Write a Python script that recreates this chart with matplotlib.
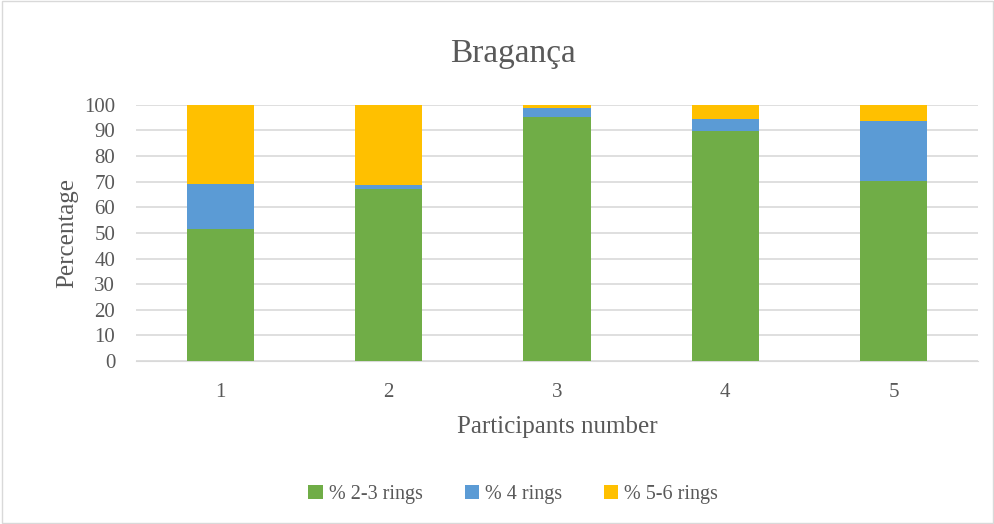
import matplotlib.pyplot as plt
import numpy as np

participants = ['1', '2', '3', '4', '5']
rings_2_3 = [51.4, 67.3, 95.4, 89.6, 70.3]
rings_4 = [17.5, 1.4, 3.5, 4.7, 23.2]
rings_5_6 = [31.1, 31.3, 1.1, 5.7, 6.5]

plt.rcParams['font.family'] = ['Liberation Serif', 'DejaVu Serif']
grey = '#595959'

fig = plt.figure(figsize=(9.95, 5.24), dpi=100)
ax = fig.add_axes([0.1367, 0.311, 0.846, 0.489])

x = np.arange(len(participants))
w = 0.4
b1 = np.array(rings_2_3)
b2 = b1 + np.array(rings_4)
ax.bar(x, rings_2_3, w, color='#70ad47', label='% 2-3 rings', zorder=3)
ax.bar(x, rings_4, w, bottom=b1, color='#5b9bd5', label='% 4 rings', zorder=3)
ax.bar(x, rings_5_6, w, bottom=b2, color='#ffc000', label='% 5-6 rings', zorder=3)

ax.set_xlim(-0.5, len(participants) - 0.5)
ax.set_ylim(0, 100)
ax.set_yticks(range(0, 101, 10))
ax.set_xticks(x)
ax.set_xticklabels(participants)
ax.yaxis.grid(True, color='#d9d9d9', linewidth=1.2, zorder=0)
for s in ['top', 'right', 'left']:
    ax.spines[s].set_visible(False)
ax.spines['bottom'].set_color('#d9d9d9')
ax.tick_params(axis='both', length=0, labelsize=15, colors=grey)
ax.tick_params(axis='y', pad=15)
ax.tick_params(axis='x', pad=16)

fig.text(0.516, 0.898, 'Bragança', fontsize=24, color=grey, ha='center', va='center')
ax.set_ylabel('Percentage', fontsize=18, color=grey, labelpad=4)
ax.set_xlabel('Participants number', fontsize=18, color=grey, labelpad=10)

fig.legend(loc='center', bbox_to_anchor=(0.516, 0.057), ncol=3, frameon=False,
           fontsize=14.5, labelcolor=grey, handlelength=0.7, handleheight=0.7,
           columnspacing=2.1, handletextpad=0.3)

fig.patches.append(plt.Rectangle((0.002, 0.002), 0.996, 0.996, transform=fig.transFigure,
                                 fill=False, edgecolor='#d9d9d9', linewidth=1))

fig.savefig('out.png', dpi=100)
